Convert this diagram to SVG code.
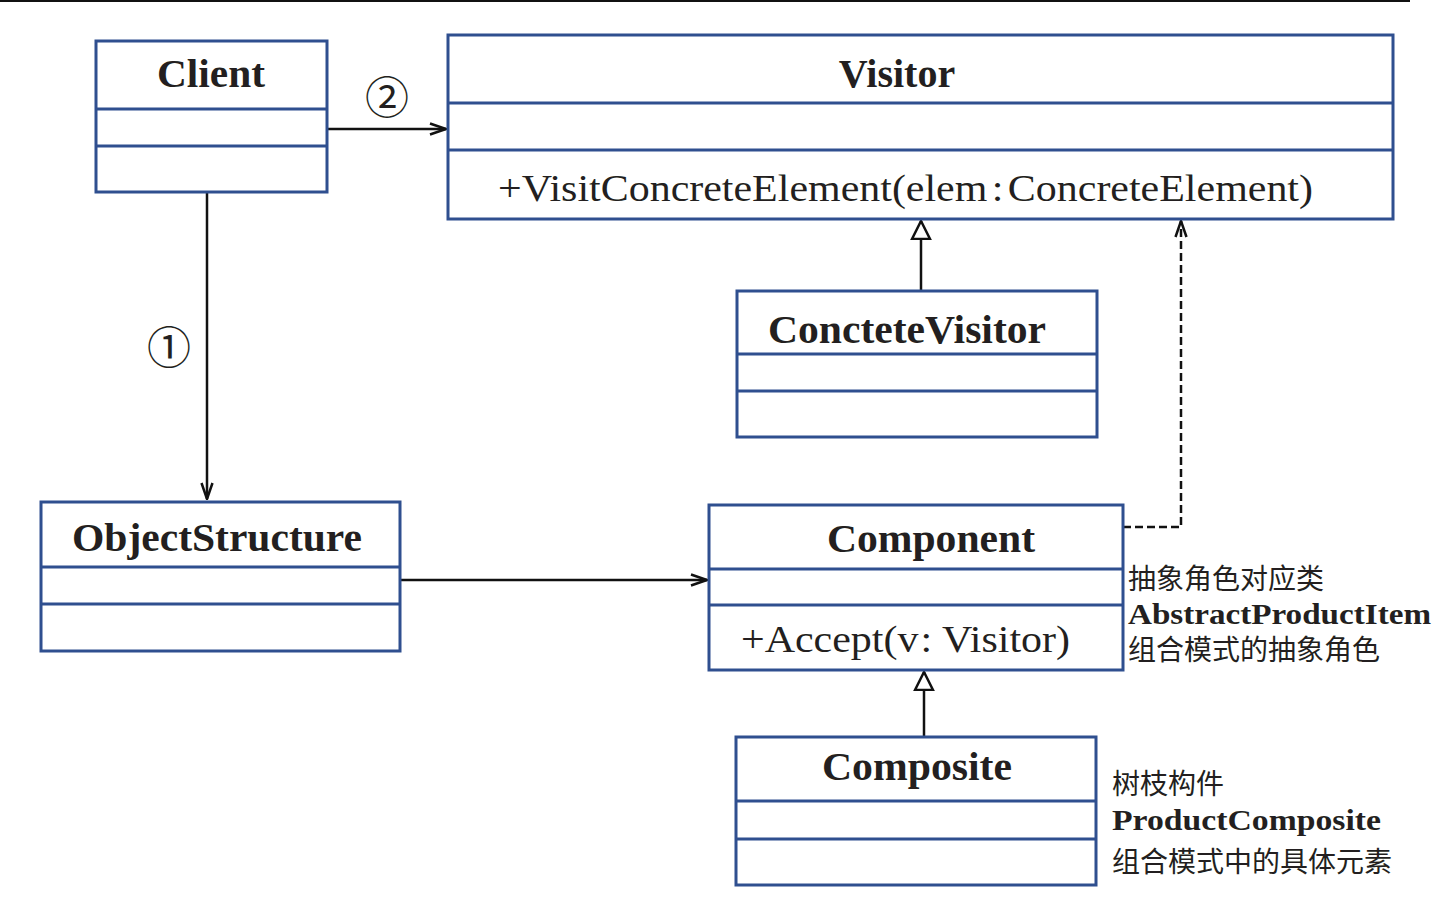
<svg xmlns="http://www.w3.org/2000/svg" width="1454" height="910" viewBox="0 0 1454 910">
<style>
.box{fill:#fff;stroke:#2f4f8f;stroke-width:3}
.div{stroke:#2f4f8f;stroke-width:3}
.title{font-family:"Liberation Serif",serif;font-weight:bold;font-size:40px;fill:#231f20;text-anchor:middle}
.meth{font-family:"Liberation Serif",serif;font-size:38px;fill:#231f20}
.cn{font-family:"Noto Sans CJK SC",sans-serif;font-size:28px;fill:#231f20}
.en{font-family:"Liberation Serif",serif;font-weight:bold;font-size:30px;fill:#231f20}
.num{font-family:"Noto Sans CJK SC",sans-serif;font-size:44px;fill:#231f20;text-anchor:middle}
.ln{stroke:#111;stroke-width:2.5;fill:none}
</style>
<defs>
<marker id="open" viewBox="0 0 18 14" refX="17" refY="7" markerWidth="18" markerHeight="14" markerUnits="userSpaceOnUse" orient="auto">
<path d="M1,1.5 L17,7 L1,12.5" fill="none" stroke="#111" stroke-width="2.5"/>
</marker>
<marker id="tri" viewBox="0 0 20 28" refX="19" refY="14" markerWidth="20" markerHeight="28" markerUnits="userSpaceOnUse" orient="auto">
<path d="M1,5 L19,14 L1,23 Z" fill="#fff" stroke="#111" stroke-width="2.5"/>
</marker>
</defs>
<rect width="1454" height="910" fill="#fff"/>
<line x1="0" y1="1" x2="1410" y2="1" stroke="#111" stroke-width="2"/>

<g id="connectors">
<line class="ln" x1="327" y1="129" x2="446" y2="129" marker-end="url(#open)"/>
<line class="ln" x1="207" y1="192" x2="207" y2="499" marker-end="url(#open)"/>
<line class="ln" x1="400" y1="580" x2="707" y2="580" marker-end="url(#open)"/>
<line class="ln" x1="921" y1="291" x2="921" y2="221" marker-end="url(#tri)"/>
<polyline class="ln" points="1123,527 1181,527 1181,221" stroke-dasharray="8,4" marker-end="url(#open)"/>
<line class="ln" x1="924" y1="737" x2="924" y2="672" marker-end="url(#tri)"/>
<text class="num" x="387" y="114">②</text>
<text class="num" x="169" y="364">①</text>
</g>

<g id="client">
<rect class="box" x="96" y="41" width="231" height="151"/>
<line class="div" x1="96" y1="109" x2="327" y2="109"/>
<line class="div" x1="96" y1="146" x2="327" y2="146"/>
<text class="title" x="211" y="87" textLength="108" lengthAdjust="spacingAndGlyphs">Client</text>
</g>

<g id="visitor">
<rect class="box" x="448" y="35" width="945" height="184"/>
<line class="div" x1="448" y1="103" x2="1393" y2="103"/>
<line class="div" x1="448" y1="150" x2="1393" y2="150"/>
<text class="title" x="897" y="87">Visitor</text>
<text class="meth" x="498" y="201" textLength="815" lengthAdjust="spacingAndGlyphs">+VisitConcreteElement(elem<tspan dx="4">:</tspan><tspan dx="4">ConcreteElement)</tspan></text>
</g>

<g id="conctetevisitor">
<rect class="box" x="737" y="291" width="360" height="146"/>
<line class="div" x1="737" y1="354" x2="1097" y2="354"/>
<line class="div" x1="737" y1="391" x2="1097" y2="391"/>
<text class="title" x="907" y="343" textLength="278" lengthAdjust="spacingAndGlyphs">ConcteteVisitor</text>
</g>

<g id="objectstructure">
<rect class="box" x="41" y="502" width="359" height="149"/>
<line class="div" x1="41" y1="567" x2="400" y2="567"/>
<line class="div" x1="41" y1="604" x2="400" y2="604"/>
<text class="title" x="217" y="551" textLength="290" lengthAdjust="spacingAndGlyphs">ObjectStructure</text>
</g>

<g id="component">
<rect class="box" x="709" y="505" width="414" height="165"/>
<line class="div" x1="709" y1="569" x2="1123" y2="569"/>
<line class="div" x1="709" y1="605" x2="1123" y2="605"/>
<text class="title" x="931" y="552" textLength="208" lengthAdjust="spacingAndGlyphs">Component</text>
<text class="meth" x="741" y="652" textLength="329" lengthAdjust="spacingAndGlyphs">+Accept(v<tspan dx="2">:</tspan> Visitor)</text>
<text class="cn" x="1128" y="589">抽象角色对应类</text>
<text class="en" x="1128" y="624" textLength="303" lengthAdjust="spacingAndGlyphs">AbstractProductItem</text>
<text class="cn" x="1128" y="660">组合模式的抽象角色</text>
</g>

<g id="composite">
<rect class="box" x="736" y="737" width="360" height="148"/>
<line class="div" x1="736" y1="801" x2="1096" y2="801"/>
<line class="div" x1="736" y1="839" x2="1096" y2="839"/>
<text class="title" x="917" y="780" textLength="190" lengthAdjust="spacingAndGlyphs">Composite</text>
<text class="cn" x="1112" y="794">树枝构件</text>
<text class="en" x="1112" y="830" textLength="269" lengthAdjust="spacingAndGlyphs">ProductComposite</text>
<text class="cn" x="1112" y="872">组合模式中的具体元素</text>
</g>
</svg>
